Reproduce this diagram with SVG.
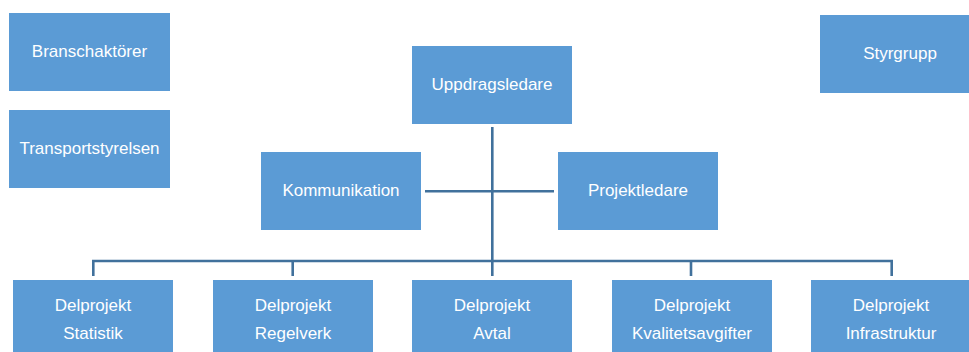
<svg xmlns="http://www.w3.org/2000/svg" width="969" height="352" viewBox="0 0 969 352">
<style>
.box{fill:#5B9BD5;stroke:#FFFFFF;stroke-width:1}
.lbl{font-family:"Liberation Sans",Arial,sans-serif;font-size:17px;fill:#FFFFFF;text-anchor:middle}
.con{stroke:#41719C;stroke-width:2.6;fill:none}
</style>
<rect width="969" height="352" fill="#FFFFFF"/>
<g id="connectors">
<line class="con" x1="492.3" y1="127" x2="492.3" y2="276"/>
<line class="con" x1="425" y1="191.3" x2="554" y2="191.3"/>
<polyline class="con" points="93.3,276 93.3,261 891.7,261 891.7,276"/>
<line class="con" x1="292.7" y1="261" x2="292.7" y2="276"/>
<line class="con" x1="691" y1="261" x2="691" y2="276"/>
</g>
<g id="branschaktorer"><rect class="box" x="8.5" y="12.5" width="162" height="79"/><text class="lbl" x="89.5" y="57">Branschaktörer</text></g>
<g id="transportstyrelsen"><rect class="box" x="8.5" y="109.5" width="162" height="79"/><text class="lbl" x="89.5" y="154">Transportstyrelsen</text></g>
<g id="styrgrupp"><rect class="box" x="819.5" y="14.5" width="162" height="79"/><text class="lbl" x="900" y="58.5">Styrgrupp</text></g>
<g id="uppdragsledare"><rect class="box" x="411.5" y="45.5" width="161" height="79"/><text class="lbl" x="492" y="90">Uppdragsledare</text></g>
<g id="kommunikation"><rect class="box" x="260.5" y="151.5" width="161" height="79"/><text class="lbl" x="341" y="196">Kommunikation</text></g>
<g id="projektledare"><rect class="box" x="557.5" y="151.5" width="161" height="79"/><text class="lbl" x="638" y="196">Projektledare</text></g>
<g id="dp-statistik"><rect class="box" x="12.5" y="279.5" width="161" height="79"/><text class="lbl" x="93" y="310.5">Delprojekt</text><text class="lbl" x="93" y="338.5">Statistik</text></g>
<g id="dp-regelverk"><rect class="box" x="212.5" y="279.5" width="161" height="79"/><text class="lbl" x="293" y="310.5">Delprojekt</text><text class="lbl" x="293" y="338.5">Regelverk</text></g>
<g id="dp-avtal"><rect class="box" x="411.5" y="279.5" width="161" height="79"/><text class="lbl" x="492" y="310.5">Delprojekt</text><text class="lbl" x="492" y="338.5">Avtal</text></g>
<g id="dp-kvalitetsavgifter"><rect class="box" x="611.5" y="279.5" width="161" height="79"/><text class="lbl" x="692" y="310.5">Delprojekt</text><text class="lbl" x="692" y="338.5">Kvalitetsavgifter</text></g>
<g id="dp-infrastruktur"><rect class="box" x="810.5" y="279.5" width="161" height="79"/><text class="lbl" x="891" y="310.5">Delprojekt</text><text class="lbl" x="891" y="338.5">Infrastruktur</text></g>
</svg>
